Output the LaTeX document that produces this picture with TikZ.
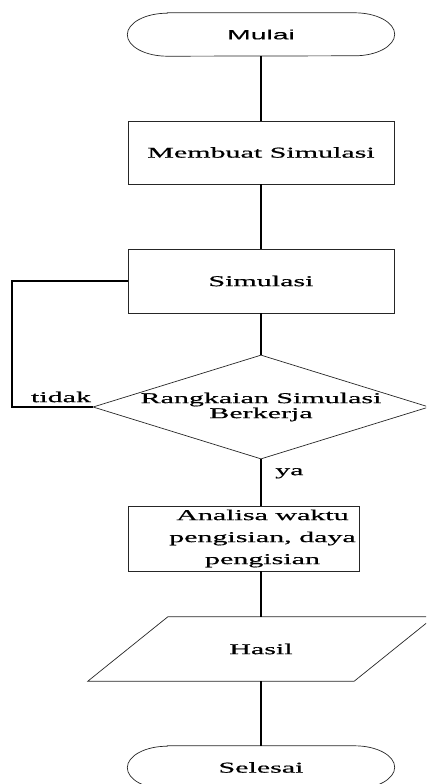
\documentclass[tikz,border=0pt]{standalone}
\usepackage{fontspec}
\setmainfont[FakeStretch=2,FakeBold=0.6]{Liberation Serif}
\newfontfamily\mulaifont[FakeStretch=2.1,FakeBold=0.4]{Liberation Sans}
\usetikzlibrary{shapes.geometric}

\tikzset{
  box/.style={draw=black!85, line width=0.7pt, rectangle, minimum width=266pt, inner sep=0pt},
  term/.style={minimum width=267pt, minimum height=43pt, inner sep=0pt},
  link/.style={line width=1.8pt},
  outline/.style={draw=black!85, line width=0.7pt},
  txt/.style={font=\fontsize{15}{15}\selectfont}
}

\begin{document}
\begin{tikzpicture}[x=1pt,y=-1pt,txt]
        \useasboundingbox (0,0) rectangle (426,784);
        \clip (0,0) rectangle (426,784);
        % shapes
        \node[term,font=\mulaifont\fontsize{13.5}{13.5}\selectfont] (mulai) at (261,34.5) {Mulai};
        \draw[outline] ([xshift=40pt]mulai.north west) -- ([xshift=-40pt]mulai.north east) arc[start angle=90,end angle=-90,x radius=40pt,y radius=21.5pt] -- ([xshift=40pt]mulai.south west) arc[start angle=270,end angle=90,x radius=40pt,y radius=21.5pt] -- cycle;
        \node[box,minimum height=63pt] (membuat) at (261,152.5) {Membuat Simulasi};
        \node[box,minimum height=64pt] (simulasi) at (261,281) {Simulasi};
        \node[outline,diamond,aspect=3.2,inner sep=0pt,minimum width=336pt,minimum height=104pt,align=center] (kerja) at (261,407) {Rangkaian Simulasi\\Berkerja};
        \node[box,minimum width=231pt,minimum height=65pt,label={[xshift=19pt,align=center,font=\fontsize{15}{22}\selectfont]center:{Analisa waktu\\pengisian, daya\\pengisian}}] (analisa) at (243.5,538.5) {};
        \node[minimum width=266pt,minimum height=64pt,inner sep=0pt] (hasil) at (261,649) {Hasil};
        \draw[outline] ([xshift=40pt]hasil.north west) -- ([xshift=40pt]hasil.north east) -- ([xshift=-40pt]hasil.south east) -- ([xshift=-40pt]hasil.south west) -- cycle;
        \node[term] (selesai) at (261,767.5) {Selesai};
        \draw[outline] ([xshift=40pt]selesai.north west) -- ([xshift=-40pt]selesai.north east) arc[start angle=90,end angle=-90,x radius=40pt,y radius=21.5pt] -- ([xshift=40pt]selesai.south west) arc[start angle=270,end angle=90,x radius=40pt,y radius=21.5pt] -- cycle;
        % connectors
        \draw[link] (mulai.south) -- (membuat.north);
        \draw[link] (membuat.south) -- (simulasi.north);
        \draw[link] (simulasi.south) -- (kerja.north);
        \draw[link] (kerja.south) -- (kerja.south |- analisa.north) node[pos=0.3,anchor=west,xshift=10pt] (ya) {ya};
        \draw[link] (analisa.south -| hasil.north) -- (hasil.north);
        \draw[link] (hasil.south) -- (selesai.north);
        \coordinate (loopcorner) at (12,281);
        \draw[link] (simulasi.west) -- (loopcorner) |- (kerja.west);
        \node (tidak) at (61,397) {tidak};
    \end{tikzpicture}
\end{document}
